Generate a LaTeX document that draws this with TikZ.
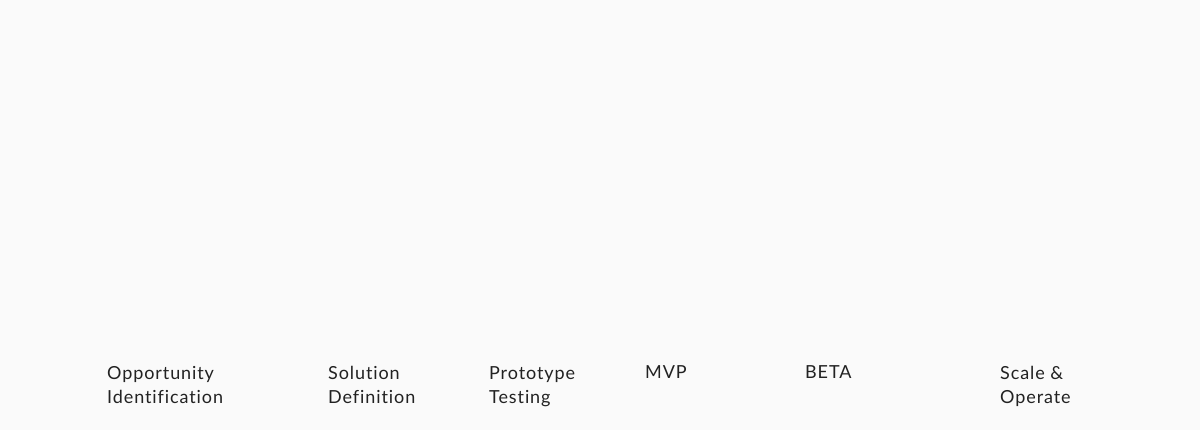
\documentclass[tikz,border=0pt]{standalone}
\usepackage{fontspec}
\setmainfont{Lato}[Ligatures={NoCommon,NoRare,NoContextual}, LetterSpace=5]
\definecolor{bg}{HTML}{FAFAFA}
\definecolor{ink}{HTML}{222222}
\begin{document}
\begin{tikzpicture}[x=1pt,y=-1pt,
  stage/.style={anchor=base west, inner sep=0pt, align=left, text=ink,
    font=\fontsize{18}{24}\selectfont}]
\fill[bg] (0,0) rectangle (1200,430);
\useasboundingbox (0,0) rectangle (1200,430);
\node[stage] (s1) at (107,403) {Opportunity\\Identification};
\node[stage] (s2) at (328,403) {Solution\\Definition};
\node[stage] (s3) at (489,403) {Prototype\\Testing};
\node[stage] (s4) at (645,379) {MVP};
\node[stage] (s5) at (805,379) {BETA};
\node[stage] (s6) at (1000,403) {Scale \&\\Operate};
\end{tikzpicture}
\end{document}
